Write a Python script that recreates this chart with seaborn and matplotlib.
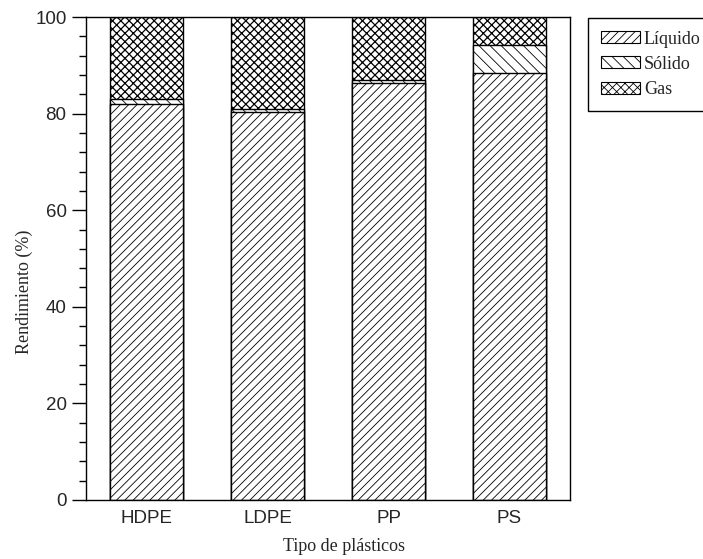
import matplotlib
matplotlib.use("Agg")
import matplotlib.pyplot as plt
from matplotlib.patches import Patch
from matplotlib.ticker import AutoMinorLocator, MultipleLocator
import seaborn as sns
import pandas as pd

# Yields (%) per plastic type
plasticos = ["HDPE", "LDPE", "PP", "PS"]
liquido = [82.0, 80.4, 86.4, 88.5]
solido = [1.0, 0.6, 0.5, 5.6]
gas = [17.0, 19.0, 13.1, 5.9]

series = ["Líquido", "Sólido", "Gas"]
hatches = {"Líquido": "////", "Sólido": "\\\\\\", "Gas": "xxxx"}
hatch_lw = {"Líquido": 0.6, "Sólido": 0.6, "Gas": 0.9}

df = pd.DataFrame({"plastico": plasticos, "Líquido": liquido,
                   "Sólido": solido, "Gas": gas})
# cumulative tops for stacking (draw tallest first)
df["top_liq"] = df["Líquido"]
df["top_sol"] = df["Líquido"] + df["Sólido"]
df["top_gas"] = df["top_sol"] + df["Gas"]

sns.set_theme(style="ticks")
plt.rcParams["font.family"] = ["Liberation Serif", "DejaVu Serif"]
plt.rcParams["hatch.linewidth"] = 0.6
plt.rcParams["hatch.color"] = "black"

fig = plt.figure(figsize=(7.03, 5.59), dpi=100)
ax = fig.add_axes([86 / 703, 59 / 559, 484 / 703, 483 / 559])

for col, name in [("top_gas", "Gas"), ("top_sol", "Sólido"), ("top_liq", "Líquido")]:
    n_before = len(ax.patches)
    sns.barplot(data=df, x="plastico", y=col, order=plasticos, ax=ax,
                color="white", edgecolor="black", linewidth=1.0,
                width=0.6, hatch=hatches[name], saturation=1, errorbar=None)
    for p in ax.patches[n_before:]:
        if hasattr(p, "set_hatch_linewidth"):
            p.set_hatch_linewidth(hatch_lw[name])

ax.set_ylim(0, 100)
ax.set_xlim(-0.5, 3.5)
ax.yaxis.set_major_locator(MultipleLocator(20))
ax.yaxis.set_minor_locator(AutoMinorLocator(5))
ax.tick_params(axis="y", which="major", length=10, width=1, pad=4,
               labelsize=13.5, color="black")
ax.tick_params(axis="y", which="minor", length=5, width=1, color="black")
ax.tick_params(axis="x", length=0, pad=7, labelsize=13.5)
for lab in ax.get_xticklabels() + ax.get_yticklabels():
    lab.set_fontfamily(["Liberation Sans", "DejaVu Sans"])
for sp in ax.spines.values():
    sp.set_linewidth(1.0)
    sp.set_color("black")

ax.set_xlabel("Tipo de plásticos", fontsize=13)
ax.set_ylabel("Rendimiento (%)", fontsize=13)
ax.xaxis.set_label_coords(0.533, -0.079)
ax.yaxis.set_label_coords(-0.11, 0.43)

handles = []
for s in series:
    h = Patch(facecolor="white", edgecolor="black", linewidth=0.8,
              hatch=hatches[s], label=s)
    if hasattr(h, "set_hatch_linewidth"):
        h.set_hatch_linewidth(hatch_lw[s])
    handles.append(h)
leg = fig.legend(handles=handles, loc="upper left",
                 bbox_to_anchor=(588 / 703, 1 - 18 / 559), fontsize=13,
                 frameon=True, fancybox=False, edgecolor="black",
                 handlelength=2.2, handleheight=0.65, handletextpad=0.2,
                 labelspacing=0.45, borderpad=0.7, borderaxespad=0)
leg.get_frame().set_linewidth(1.0)
leg.get_frame().set_alpha(1)

fig.savefig("out.png", dpi=100)
